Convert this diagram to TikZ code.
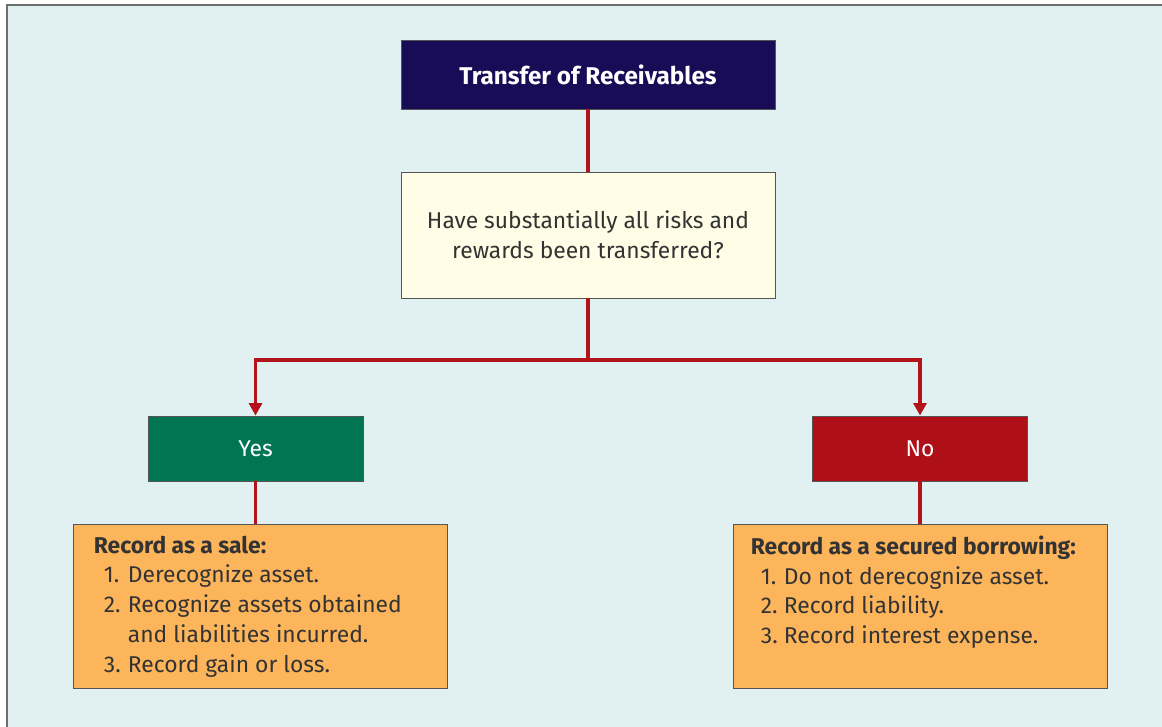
\documentclass[tikz,border=0pt]{standalone}
\usepackage{fontspec}
\setmainfont{Fira Sans}
\usetikzlibrary{arrows.meta}

\definecolor{panel}{HTML}{E1F1F1}
\definecolor{frame}{HTML}{6E6E6E}
\definecolor{boxline}{HTML}{555555}
\definecolor{navy}{HTML}{180C57}
\definecolor{cream}{HTML}{FFFDE6}
\definecolor{yesgreen}{HTML}{007552}
\definecolor{nored}{HTML}{AF0F16}
\definecolor{linkred}{HTML}{B3141B}
\definecolor{orangebox}{HTML}{FDB55B}
\definecolor{ink}{HTML}{333333}

\begin{document}
\begin{tikzpicture}[x=1cm,y=1cm,>={Triangle[length=0.25cm,width=0.26cm]}]
    \tikzstyle{box}=[draw=boxline, line width=0.5pt, align=center, inner sep=0pt,
      font=\fontsize{13}{17}\selectfont]
    \tikzstyle{link}=[draw=linkred, line width=1.8pt]
    \tikzstyle{steps}=[anchor=north west, align=left, inner sep=0pt, text=ink,
      font=\fontsize{13}{16.9}\selectfont]

    \useasboundingbox (0,0) rectangle (23.24,14.52);
    \draw[frame, line width=0.04cm, fill=panel] (0.13,-0.5) rectangle (23.8,14.42);

    \node[box, fill=navy, text=white, minimum width=7.48cm, minimum height=1.38cm,
      font=\fontsize{13.8}{16}\selectfont\bfseries] (title) at (11.76,13.03)
    {Transfer of Receivables};

    \node[box, fill=cream, text=ink, minimum width=7.48cm, minimum height=2.52cm] (question) at (11.76,9.82)
    {Have substantially all risks and\\rewards been transferred?};

    \node[box, fill=yesgreen, text=white, minimum width=4.3cm, minimum height=1.3cm] (yes) at (5.11,5.55)
    {Yes};

    \node[box, fill=nored, text=white, minimum width=4.3cm, minimum height=1.3cm] (no) at (18.4,5.55)
    {No};

    \node[box, fill=orangebox, minimum width=7.48cm, minimum height=3.28cm] (sale) at (5.2,2.4) {};
    \node[box, fill=orangebox, minimum width=7.48cm, minimum height=3.28cm] (borrow) at (18.4,2.4) {};

    \node[steps] (saletext) at ([shift={(0.42,-0.24)}]sale.north west)
    {\textbf{Record as a sale:}\\
     \hspace*{0.2cm}\makebox[0.48cm][l]{1.}Derecognize asset.\\
     \hspace*{0.2cm}\makebox[0.48cm][l]{2.}Recognize assets obtained\\
     \hspace*{0.68cm}and liabilities incurred.\\
     \hspace*{0.2cm}\makebox[0.48cm][l]{3.}Record gain or loss.};

    \node[steps] (borrowtext) at ([shift={(0.36,-0.24)}]borrow.north west)
    {\textbf{Record as a secured borrowing:}\\
     \hspace*{0.2cm}\makebox[0.46cm][l]{1.}Do not derecognize asset.\\
     \hspace*{0.2cm}\makebox[0.46cm][l]{2.}Record liability.\\
     \hspace*{0.2cm}\makebox[0.46cm][l]{3.}Record interest expense.};

    \coordinate (split) at (11.76,7.32);

    \draw[link] (title) -- (question);
    \draw[link] (question) -- (split);
    \draw[link,->] (split) -| (yes.north);
    \draw[link,->] (split) -| (no.north);
    \draw[link] (yes) -- (yes |- sale.north);
    \draw[link] (no) -- (no |- borrow.north);
\end{tikzpicture}
\end{document}
